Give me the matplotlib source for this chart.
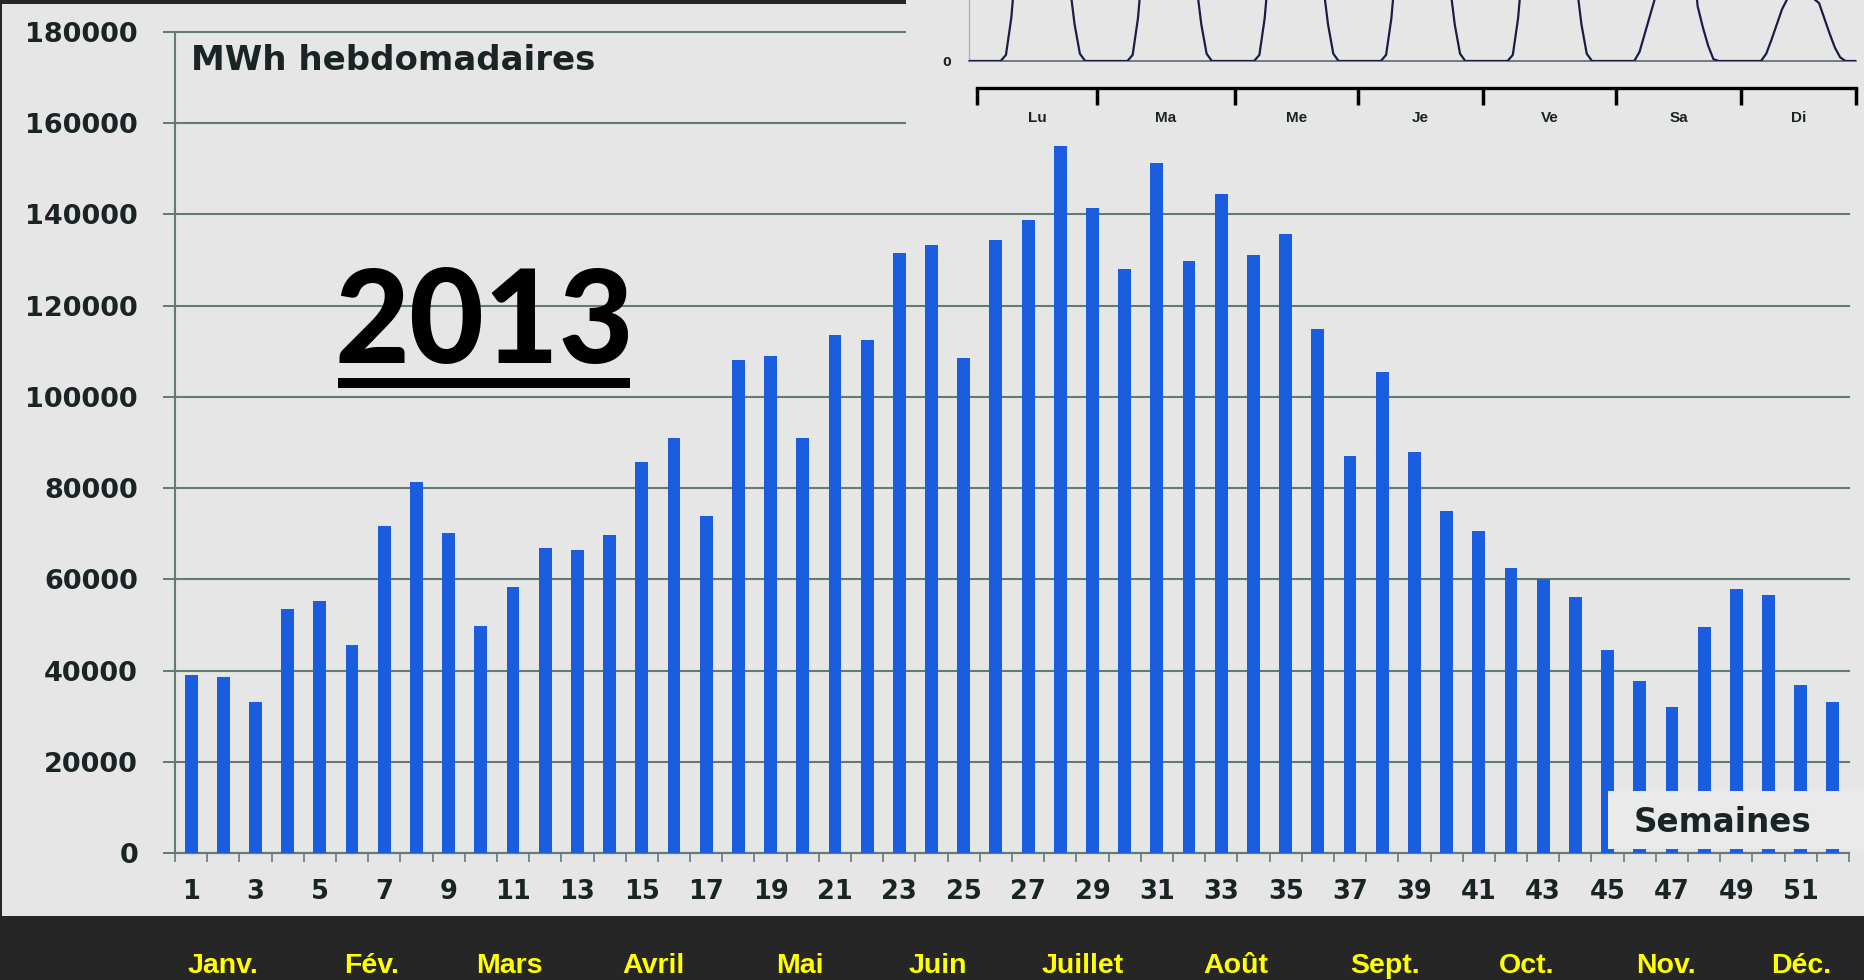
import matplotlib
matplotlib.use("Agg")
import matplotlib.pyplot as plt
import matplotlib.transforms as mtransforms
import numpy as np
from matplotlib.lines import Line2D
from matplotlib.patches import Rectangle

# Production hebdomadaire 2013 (MWh), semaines 1 à 52
semaines = np.arange(1, 53)
mwh_2013 = [
    39000, 38600, 33100, 53500, 55300, 45700, 71700, 81400, 70200, 49800,
    58400, 66800, 66500, 69700, 85800, 91000, 73800, 108000, 109000, 91000,
    113500, 112400, 131500, 133300, 108500, 134400, 138800, 155000, 141400, 128100,
    151300, 129700, 144500, 131200, 135700, 114800, 87100, 105400, 87900, 74900,
    70700, 62400, 60000, 56100, 44400, 37800, 32100, 49600, 57900, 56600,
    36800, 33100,
]
etiquettes_semaines = [str(s) for s in range(1, 52, 2)]

mois = ["Janv.", "Fév.", "Mars", "Avril", "Mai", "Juin",
        "Juillet", "Août", "Sept.", "Oct.", "Nov.", "Déc."]
mois_pos = [2.0, 6.6, 10.9, 15.35, 19.9, 24.2, 28.7, 33.45, 38.1, 42.5, 46.8, 51.0]

# Profil horaire d'une semaine type (1.0 = haut du cadre de l'encart)
jours = ["Lu", "Ma", "Me", "Je", "Ve", "Sa", "Di"]
profil_beau = [0, 0, 0, 0, 0, 0, 0, 0.1, 0.7, 1.7, 2.8, 3.6,
               4.1, 4.3, 4.3, 4.0, 3.4, 2.6, 1.9, 1.3, 0.6, 0.12, 0, 0]
profil_samedi = [0, 0, 0, 0, 0, 0, 0, 0.15, 0.45, 0.75, 1.05, 1.8,
                 2.8, 3.4, 3.6, 3.4, 2.8, 1.9, 0.9, 0.55, 0.25, 0.03, 0, 0]
profil_dimanche = [0, 0, 0, 0, 0, 0, 0, 0.12, 0.35, 0.6, 0.85, 1.02,
                   1.15, 1.2, 1.18, 1.1, 1.02, 0.95, 0.7, 0.45, 0.22, 0.06, 0, 0]
production = profil_beau * 5 + profil_samedi + profil_dimanche + [0]

# graduations tracées à la main sous l'encart (en jours)
bornes_jours = [0, 0.956, 2.055, 3.034, 4.03, 5.089, 6.084, 7]

W, H = 1864, 980
FOND = "#e6e6e6"
GRILLE = "#647a77"
TEXTE = "#1a2424"
BARRE = "#1a5ddf"


def fx(px):
    return px / W


def fy(py):
    return 1 - py / H


fig = plt.figure(figsize=(W / 100, H / 100), dpi=100, facecolor="#262626")
fig.add_artist(Rectangle((fx(2), fy(916)), fx(W) - fx(2), fy(4) - fy(916),
                         transform=fig.transFigure, facecolor=FOND,
                         edgecolor="none", zorder=-10))

# --- graphique principal ---
ax = fig.add_axes([fx(175), fy(853), fx(1849) - fx(175), fy(32) - fy(853)])
ax.set_facecolor("none")
ax.bar(semaines, mwh_2013, width=0.4, color=BARRE, zorder=3)
ax.set_xlim(0.5, 52.5)
ax.set_ylim(0, 180000)

ax.set_yticks(range(0, 180001, 20000))
ax.yaxis.grid(True, color=GRILLE, lw=1.5, zorder=1)
for gl in ax.get_ygridlines():
    gl.set_clip_on(False)
ax.tick_params(axis="y", length=8.6, width=1.4, color=GRILLE, pad=18,
               labelsize=19.5, labelcolor=TEXTE)

ax.set_xticks(np.arange(0.5, 53, 1))
ax.set_xticklabels([])
ax.tick_params(axis="x", which="major", length=6.5, width=1.2, color=GRILLE)
ax.set_xticks(range(1, 52, 2), minor=True)
ax.set_xticklabels(etiquettes_semaines, minor=True)
ax.tick_params(axis="x", which="minor", length=0, pad=18.5, labelsize=18.5,
               labelcolor=TEXTE)
for lab in ax.get_yticklabels() + ax.get_xticklabels(minor=True):
    lab.set_fontweight("bold")

for cote in ("top", "right"):
    ax.spines[cote].set_visible(False)
for cote in ("left", "bottom"):
    ax.spines[cote].set_color(GRILLE)
    ax.spines[cote].set_linewidth(1.5)

# Mois sous l'axe des semaines
trans_mois = mtransforms.blended_transform_factory(ax.transData, fig.transFigure)
for nom, pos in zip(mois, mois_pos):
    ax.text(pos, fy(953), nom, transform=trans_mois, ha="center", va="top",
            fontsize=20.5, fontweight="bold",
            family=["Liberation Sans Narrow", "Liberation Sans"],
            color="#ffff00", clip_on=False)

fig.text(fx(191), fy(70), "MWh hebdomadaires", ha="left", va="baseline",
         fontsize=24.5, fontweight="bold", color=TEXTE)

fig.text(fx(484), fy(363), "2013", ha="center", va="baseline",
         fontsize=93, fontweight="black", family=["Lato", "DejaVu Sans"],
         color="black")
fig.add_artist(Line2D([fx(338), fx(630)], [fy(383), fy(383)], lw=7.2,
                      color="black", solid_capstyle="butt",
                      transform=fig.transFigure))

# Cartouche « Semaines »
fig.add_artist(Rectangle((fx(1608), fy(849)), fx(W) - fx(1608), fy(791) - fy(849),
                         transform=fig.transFigure, facecolor="#eaeaea",
                         edgecolor="none", zorder=5))
fig.text(fx(1722), fy(831.5), "Semaines", ha="center", va="baseline",
         fontsize=23.5, fontweight="bold", color=TEXTE, zorder=6)

# --- encart : production horaire sur une semaine ---
fig.add_artist(Rectangle((fx(906), fy(128)), fx(W) - fx(906), fy(0) - fy(128),
                         transform=fig.transFigure, facecolor=FOND,
                         edgecolor="none", zorder=1))

ax_h = fig.add_axes([fx(969), fy(61), fx(1856) - fx(969), fy(0) - fy(61)],
                    zorder=3)
ax_h.set_facecolor("none")
heures = np.arange(len(production))
ax_h.plot(heures, production, color="#1b1d45", lw=1.6, zorder=3)
ax_h.set_xlim(0, 168)
ax_h.set_ylim(0, 1)
ax_h.set_xticks([])
ax_h.set_yticks([0])
ax_h.set_yticklabels(["0"], fontsize=9, fontweight="bold", color=TEXTE)
ax_h.tick_params(axis="y", length=0, pad=13)
ax_h.spines["top"].set_visible(False)
ax_h.spines["right"].set_visible(False)
ax_h.spines["left"].set_color("#a9aeb0")
ax_h.spines["left"].set_linewidth(1)
ax_h.spines["bottom"].set_color("#5d6775")
ax_h.spines["bottom"].set_linewidth(1.2)

ax_j = fig.add_axes([fx(977), fy(88), fx(1856) - fx(977), 0.001], zorder=3)
ax_j.set_facecolor("none")
ax_j.set_xlim(0, 7)
ax_j.set_yticks([])
for cote in ("top", "right", "left"):
    ax_j.spines[cote].set_visible(False)
ax_j.spines["bottom"].set_color("black")
ax_j.spines["bottom"].set_linewidth(2.4)
ax_j.set_xticks(bornes_jours)
ax_j.set_xticklabels([])
ax_j.tick_params(axis="x", which="major", length=12.5, width=2.5, color="black")
milieux = [(a + b) / 2 for a, b in zip(bornes_jours[:-1], bornes_jours[1:])]
ax_j.set_xticks(milieux, minor=True)
ax_j.set_xticklabels(jours, minor=True, fontsize=11, fontweight="bold",
                     family="Liberation Sans", color=TEXTE)
ax_j.tick_params(axis="x", which="minor", length=0, pad=16.5)

fig.savefig("out.png", dpi=100)
